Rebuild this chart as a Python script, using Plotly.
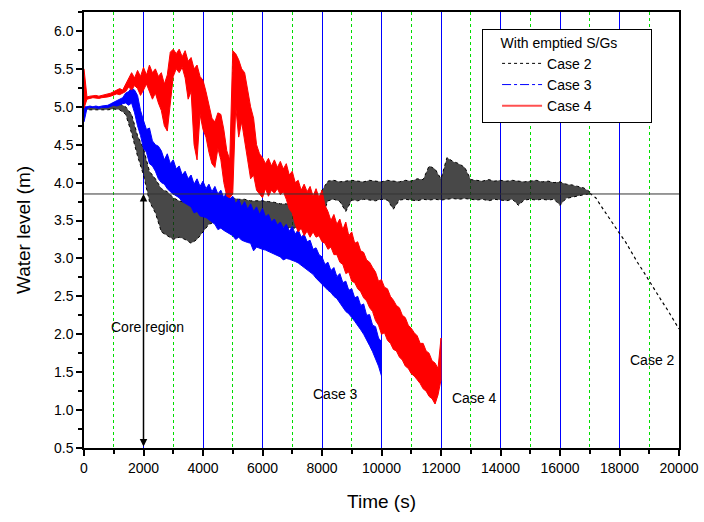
import numpy as np
import plotly.graph_objects as go

# ---------------- data ----------------
# Each noisy record is given by the upper and lower edge of its scatter band,
# read from the picture (Case 2 every 200 s, Cases 3 and 4 every 100 s).
CASE2_STEP = 200
CASE3_STEP = 100
CASE4_STEP = 100

case2_upper = [
    4.99, 4.99, 4.99, 4.99, 5.00, 5.03, 5.04, 5.00, 4.90, 4.62,
    4.45, 4.15, 4.05, 3.92, 3.88, 3.80, 3.76, 3.74, 3.72, 3.70,
    3.75, 3.78, 3.80, 3.80, 3.80, 3.80, 3.78, 3.78, 3.76, 3.76,
    3.76, 3.75, 3.74, 3.72, 3.72, 3.70, 3.70, 3.68, 3.66, 3.68,
    3.90, 4.02, 4.03, 4.01, 4.02, 4.03, 4.02, 4.01, 4.03, 4.02,
    4.01, 4.03, 4.02, 4.01, 4.03, 4.02, 4.05, 4.04, 4.22, 4.18,
    4.05, 4.33, 4.28, 4.25, 4.20, 4.04, 4.03, 4.02, 4.04, 4.02,
    4.03, 4.02, 4.03, 4.02, 4.01, 4.02, 4.03, 4.01, 4.02, 4.00,
    4.01, 3.98, 3.97, 3.95, 3.93, 3.88,
]
case2_lower = [
    4.96, 4.96, 4.96, 4.96, 4.96, 4.97, 4.96, 4.90, 4.65, 4.35,
    4.10, 3.75, 3.60, 3.35, 3.30, 3.25, 3.28, 3.25, 3.20, 3.25,
    3.35, 3.45, 3.48, 3.48, 3.50, 3.50, 3.48, 3.48, 3.46, 3.46,
    3.45, 3.45, 3.42, 3.42, 3.40, 3.40, 3.40, 3.38, 3.38, 3.40,
    3.55, 3.76, 3.78, 3.75, 3.62, 3.77, 3.76, 3.78, 3.77, 3.76,
    3.78, 3.77, 3.65, 3.77, 3.78, 3.77, 3.76, 3.78, 3.77, 3.78,
    3.77, 3.78, 3.79, 3.78, 3.79, 3.78, 3.77, 3.78, 3.76, 3.78,
    3.77, 3.76, 3.78, 3.70, 3.77, 3.78, 3.77, 3.78, 3.77, 3.78,
    3.70, 3.79, 3.80, 3.82, 3.84, 3.85,
]
case2_tail_time = [17000, 17200, 17400, 17600, 17800, 18000, 18200, 18400,
                   18600, 18800, 19000, 19200, 19400, 19600, 19800, 20000]
case2_tail_level = [3.86, 3.80, 3.68, 3.56, 3.44, 3.33, 3.22, 3.08, 2.95,
                    2.83, 2.70, 2.58, 2.45, 2.33, 2.20, 2.07]

case3_upper = [
    5.00, 5.00, 5.01, 5.00, 5.01, 5.00, 5.01, 5.01, 5.02, 5.04,
    5.06, 5.08, 5.10, 5.12, 5.18, 5.20, 5.25, 5.22, 5.15, 4.95,
    4.82, 4.70, 4.72, 4.55, 4.50, 4.48, 4.42, 4.30, 4.38, 4.25,
    4.30, 4.18, 4.22, 4.10, 4.15, 4.05, 4.10, 3.98, 4.05, 3.95,
    4.02, 3.92, 3.98, 3.88, 3.95, 3.85, 3.90, 3.80, 3.88, 3.78,
    3.82, 3.72, 3.78, 3.68, 3.75, 3.65, 3.72, 3.62, 3.68, 3.58,
    3.66, 3.55, 3.58, 3.48, 3.52, 3.44, 3.48, 3.40, 3.45, 3.36,
    3.42, 3.32, 3.38, 3.28, 3.32, 3.22, 3.24, 3.12, 3.14, 3.05,
    3.02, 2.92, 2.95, 2.84, 2.88, 2.76, 2.80, 2.68, 2.70, 2.58,
    2.60, 2.48, 2.50, 2.38, 2.40, 2.25, 2.26, 2.12, 2.10, 1.95,
    1.90,
]
case3_lower = [
    4.80, 4.98, 4.99, 4.99, 4.99, 4.98, 4.99, 4.99, 4.99, 5.00,
    5.02, 5.01, 5.03, 5.04, 5.05, 5.02, 5.05, 4.92, 4.75, 4.62,
    4.45, 4.40, 4.25, 4.22, 4.15, 4.05, 4.00, 3.98, 3.92, 3.88,
    3.85, 3.82, 3.80, 3.75, 3.72, 3.70, 3.68, 3.60, 3.62, 3.56,
    3.55, 3.54, 3.50, 3.48, 3.45, 3.38, 3.40, 3.37, 3.35, 3.32,
    3.30, 3.25, 3.28, 3.24, 3.22, 3.21, 3.20, 3.10, 3.15, 3.13,
    3.12, 3.11, 3.10, 3.08, 3.06, 3.04, 3.02, 2.98, 3.00, 2.99,
    2.98, 2.96, 2.94, 2.91, 2.88, 2.86, 2.82, 2.79, 2.74, 2.70,
    2.65, 2.62, 2.58, 2.55, 2.50, 2.47, 2.42, 2.36, 2.30, 2.27,
    2.22, 2.17, 2.12, 2.06, 2.00, 1.93, 1.85, 1.77, 1.68, 1.58,
    1.45,
]

case4_upper = [
    5.50, 5.13, 5.14, 5.15, 5.15, 5.14, 5.15, 5.16, 5.16, 5.18,
    5.20, 5.22, 5.24, 5.22, 5.30, 5.36, 5.45, 5.38, 5.48, 5.40,
    5.52, 5.42, 5.55, 5.45, 5.50, 5.40, 5.45, 5.30, 5.42, 5.72,
    5.76, 5.70, 5.76, 5.66, 5.74, 5.60, 5.65, 5.50, 5.55, 5.40,
    5.35, 5.20, 5.00, 4.85, 4.80, 4.92, 4.90, 4.70, 4.42, 4.30,
    5.74, 5.70, 5.62, 5.50, 5.45, 5.20, 5.00, 4.85, 4.50, 4.38,
    4.33, 4.25, 4.32, 4.22, 4.30, 4.20, 4.28, 4.18, 4.25, 4.10,
    4.15, 4.00, 4.03, 3.90, 3.98, 3.88, 3.95, 3.82, 3.92, 3.80,
    3.90, 3.70, 3.62, 3.50, 3.58, 3.45, 3.52, 3.38, 3.48, 3.30,
    3.35, 3.20, 3.22, 3.10, 3.08, 2.98, 2.95, 2.88, 2.82, 2.70,
    2.72, 2.62, 2.60, 2.50, 2.45, 2.38, 2.35, 2.25, 2.22, 2.12,
    2.08, 2.02, 1.98, 1.88, 1.88, 1.78, 1.75, 1.65, 1.62, 1.55,
    1.95,
]
case4_lower = [
    4.98, 5.10, 5.11, 5.12, 5.12, 5.11, 5.12, 5.13, 5.13, 5.14,
    5.15, 5.17, 5.16, 5.18, 5.20, 5.26, 5.22, 5.28, 5.24, 5.15,
    5.22, 5.30, 5.20, 5.10, 5.18, 5.05, 4.95, 4.75, 4.68, 5.00,
    5.40, 5.50, 5.45, 5.52, 5.38, 5.10, 5.20, 4.50, 4.30, 4.90,
    4.70, 4.60, 4.40, 4.25, 4.20, 4.45, 4.30, 4.00, 3.82, 3.80,
    3.85, 5.00, 4.60, 4.80, 4.55, 4.30, 4.05, 4.10, 3.90, 3.85,
    3.80, 3.92, 3.82, 3.90, 3.86, 3.92, 3.84, 3.88, 3.78, 3.65,
    3.60, 3.45, 3.35, 3.40, 3.30, 3.36, 3.28, 3.35, 3.28, 3.30,
    3.22, 3.20, 3.12, 3.15, 3.05, 3.05, 2.95, 2.92, 2.80, 2.82,
    2.70, 2.68, 2.60, 2.56, 2.48, 2.44, 2.35, 2.30, 2.18, 2.12,
    2.00, 2.02, 1.92, 1.88, 1.80, 1.78, 1.70, 1.66, 1.58, 1.55,
    1.48, 1.45, 1.40, 1.35, 1.28, 1.25, 1.18, 1.15, 1.08, 1.20,
    1.40,
]

reference_level = 3.85          # horizontal line
core_region_time = 2000         # double arrow
x_tick_labels = ["0", "2000", "4000", "6000", "8000", "10000", "12000",
                 "14000", "16000", "18000", "20000"]
y_tick_labels = ["0.5", "1.0", "1.5", "2.0", "2.5", "3.0", "3.5",
                 "4.0", "4.5", "5.0", "5.5", "6.0"]
labels = [("Core region", 2150, 2.10), ("Case 3", 8440, 1.21),
          ("Case 4", 13110, 1.16), ("Case 2", 19120, 1.66)]

# ---------------- figure ----------------
FONT = "Liberation Sans, Arial, sans-serif"
fig = go.Figure()


def add_band(upper, lower, step, line_color, fill_color, width, dash="solid"):
    t = list(np.arange(len(upper)) * step)
    fig.add_trace(go.Scatter(
        x=t + t[::-1], y=list(upper) + list(lower)[::-1],
        mode="lines", fill="toself", fillcolor=fill_color,
        line=dict(color=line_color, width=width, dash=dash),
        showlegend=False, hoverinfo="skip"))


add_band(case2_upper, case2_lower, CASE2_STEP, "#000000",
         "rgba(20,20,20,0.78)", 1, "dot")
fig.add_trace(go.Scatter(x=case2_tail_time, y=case2_tail_level, mode="lines",
                         line=dict(color="#000000", width=1.2, dash="dot"),
                         showlegend=False, hoverinfo="skip"))
add_band(case3_upper, case3_lower, CASE3_STEP, "#0000ff", "#0000ff", 1)
add_band(case4_upper, case4_lower, CASE4_STEP, "#ff0000", "#ff0000", 1)

# legend entries
fig.add_trace(go.Scatter(x=[None], y=[None], mode="lines", name="Case 2",
                         line=dict(color="#000000", width=1, dash="dot")))
fig.add_trace(go.Scatter(x=[None], y=[None], mode="lines", name="Case 3",
                         line=dict(color="#0000ff", width=1, dash="dashdot")))
fig.add_trace(go.Scatter(x=[None], y=[None], mode="lines", name="Case 4",
                         line=dict(color="#ff5050", width=2)))

fig.add_shape(type="line", xref="x", yref="y", x0=0, x1=20000,
              y0=reference_level, y1=reference_level,
              line=dict(color="#333333", width=1))

fig.add_annotation(x=core_region_time, y=reference_level, ax=core_region_time,
                   ay=0.5, xref="x", yref="y", axref="x", ayref="y",
                   text="", showarrow=True, arrowhead=2, startarrowhead=2,
                   arrowside="end+start", arrowwidth=1.5, arrowsize=1,
                   arrowcolor="black")

for txt, tx, ty in labels:
    fig.add_annotation(x=tx, y=ty, xref="x", yref="y", text=txt,
                       showarrow=False, font=dict(size=14, color="black",
                                                  family=FONT))

NB = "\u00a0"
fig.update_layout(
    width=704, height=522,
    margin=dict(l=84, r=25, t=12, b=74),
    paper_bgcolor="white", plot_bgcolor="white",
    font=dict(family=FONT, size=14, color="black"),
    legend=dict(x=0.669, y=0.962, xanchor="left", yanchor="top",
                bgcolor="white", bordercolor="black", borderwidth=1,
                title=dict(text=NB * 4 + "With emptied S/Gs" + NB * 8,
                           font=dict(size=14)),
                font=dict(size=14), tracegroupgap=0, itemwidth=40,
                indentation=14),
    showlegend=True,
)
fig.update_xaxes(range=[0, 20000], tickvals=list(range(0, 20001, 2000)),
                 ticktext=x_tick_labels, automargin=False,
                 ticks="outside", ticklen=6, tickwidth=1.5, tickcolor="black",
                 showline=True, linecolor="black", linewidth=1.5, mirror=True,
                 showgrid=True, gridcolor="#0000ff", gridwidth=1,
                 zeroline=False,
                 minor=dict(dtick=1000, ticks="outside", ticklen=4,
                            tickcolor="black", showgrid=True,
                            gridcolor="#00dd00", griddash="dot", gridwidth=1),
                 title=dict(text="Time (s)", font=dict(size=19), standoff=20),
                 tickfont=dict(size=14))
fig.update_yaxes(range=[0.5, 6.25],
                 tickvals=[0.5 + 0.5 * i for i in range(len(y_tick_labels))],
                 ticktext=y_tick_labels, automargin=False,
                 ticks="outside", ticklen=6, tickwidth=1.5, tickcolor="black",
                 showline=True, linecolor="black", linewidth=1.5, mirror=True,
                 showgrid=False, zeroline=False,
                 minor=dict(dtick=0.25, tick0=0.5, ticks="outside", ticklen=4,
                            tickcolor="black", showgrid=False),
                 title=dict(text="Water level (m)", font=dict(size=19),
                            standoff=18),
                 tickfont=dict(size=14))

fig.write_html("out.html", config={"displayModeBar": False},
               post_script="document.body.style.margin='0px';")
